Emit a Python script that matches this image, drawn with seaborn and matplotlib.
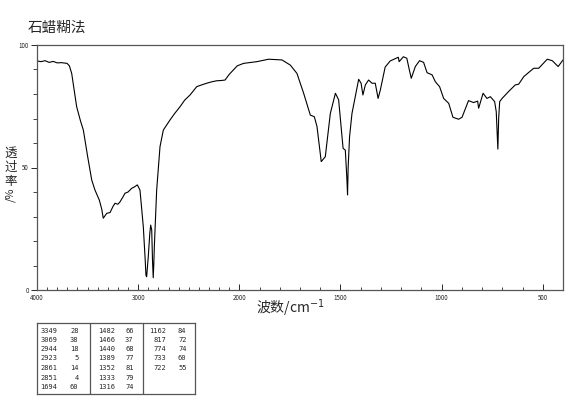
import matplotlib
matplotlib.use('Agg')
import matplotlib.pyplot as plt
import numpy as np
import pandas as pd
import seaborn as sns

### Spectrum values (wavenumber in cm-1, transmittance in %)
wavenumber = [4000, 3960, 3920, 3880, 3840, 3800, 3760, 3703, 3680, 3657, 3630, 3608, 3570, 3542,
              3499, 3459, 3427, 3384, 3360, 3345, 3311, 3278, 3250, 3229, 3200, 3179, 3150, 3130,
              3100, 3064, 3040, 3008, 2982, 2965, 2949, 2930, 2923, 2916, 2900, 2885, 2876, 2866,
              2858, 2851, 2845, 2840, 2817, 2800, 2784, 2751, 2685, 2640, 2586, 2540, 2487, 2421,
              2380, 2322, 2270, 2223, 2180, 2141, 2100, 2059, 2020, 1979, 1913, 1855, 1789, 1748,
              1715, 1682, 1649, 1629, 1616, 1595, 1575, 1550, 1525, 1509, 1487, 1476, 1468, 1465,
              1462, 1455, 1443, 1427, 1410, 1398, 1389, 1377, 1361, 1344, 1328, 1314, 1303, 1279,
              1254, 1214, 1210, 1189, 1172, 1160, 1150, 1130, 1109, 1089, 1072, 1047, 1031, 1010,
              990, 965, 944, 916, 899, 867, 842, 822, 817, 795, 776, 759, 738, 730, 722, 718,
              713, 701, 669, 636, 619, 594, 545, 520, 478, 453, 424, 400]
transmittance = [93.5, 93.2, 93.6, 92.9, 93.3, 92.7, 92.8, 92.5, 91.5, 88.4, 81.0, 74.8, 69.0, 65.3,
                 54.4, 44.9, 40.8, 36.7, 33.0, 29.3, 31.3, 31.6, 34.0, 35.4, 35.0, 36.0, 38.0, 39.5,
                 40.0, 41.5, 42.0, 42.9, 40.8, 33.0, 25.8, 12.0, 6.0, 5.4, 13.6, 23.0, 26.5, 24.5,
                 12.0, 5.0, 11.0, 17.7, 40.8, 50.0, 58.5, 65.3, 69.4, 72.0, 74.8, 77.5, 79.6, 83.0,
                 83.6, 84.4, 85.0, 85.4, 85.5, 85.7, 88.0, 89.8, 91.5, 92.5, 93.2, 94.2, 93.9, 91.8,
                 88.4, 80.3, 71.4, 70.7, 66.7, 52.4, 54.4, 72.1, 80.3, 77.6, 57.8, 57.1, 45.0, 38.8,
                 50.0, 62.6, 72.1, 78.9, 86.0, 84.4, 79.6, 83.7, 85.7, 84.4, 84.4, 78.2, 81.6, 91.0,
                 93.5, 95.0, 93.2, 95.2, 94.6, 90.0, 86.4, 91.2, 93.6, 92.9, 88.7, 87.8, 85.0, 83.0,
                 78.2, 76.2, 70.5, 69.7, 70.5, 77.3, 76.5, 77.1, 74.2, 80.3, 78.2, 78.9, 76.9, 72.8,
                 57.5, 70.0, 76.9, 78.2, 81.0, 83.7, 84.0, 87.1, 90.5, 90.5, 94.2, 93.6, 91.2, 93.9]

### Peak table
peak_wn = [[3349, 3069, 2944, 2923, 2861, 2851, 1694],
           [1482, 1466, 1440, 1389, 1352, 1333, 1316],
           [1162, 817, 774, 733, 722]]
peak_t = [[28, 38, 18, 5, 14, 4, 60],
          [66, 37, 68, 77, 81, 79, 74],
          [84, 72, 74, 60, 55]]

title = '石蜡糊法'
xlabel = '波数/cm$^{-1}$'
ylabel_chars = ['透', '过', '率']
ylabel_unit = '/%'

W, H = 570, 413


def fx(px):
    return px / W


def fy(py):
    return 1 - py / H


def fwd(x):
    # 4000-2000 is drawn at half the scale of 2000-400
    x = np.asarray(x, dtype=float)
    return np.where(x <= 2000, x, 2000 + (x - 2000) / 2)


def inv(u):
    u = np.asarray(u, dtype=float)
    return np.where(u <= 2000, u, 2000 + (u - 2000) * 2)


sns.set_style('ticks')
plt.rcParams['font.family'] = ['Noto Sans CJK SC', 'DejaVu Sans']

fig = plt.figure(figsize=(W / 100, H / 100), dpi=100)
ax = fig.add_axes([fx(37), fy(290), fx(563) - fx(37), fy(45) - fy(290)])

df = pd.DataFrame({'wn': wavenumber, 't': transmittance})
sns.lineplot(data=df, x='wn', y='t', ax=ax, color='black', linewidth=0.8,
             sort=False, estimator=None)

ax.set_xscale('function', functions=(fwd, inv))
ax.set_xlim(4000, 400)
ax.set_ylim(0, 100)

ax.set_xticks([4000, 3000, 2000, 1500, 1000, 500])
ax.set_xticklabels(['4000', '3000', '2000', '1500', '1000', '500'])
ax.set_xticks(np.arange(400, 4001, 100), minor=True)
ax.set_yticks([0, 50, 100])
ax.set_yticklabels(['0', '50', '100'])
ax.set_yticks(np.arange(0, 101, 10), minor=True)
ax.tick_params(axis='x', which='both', direction='in', labelsize=4.5, pad=3)
ax.tick_params(axis='x', which='major', length=4, width=0.7)
ax.tick_params(axis='x', which='minor', length=2, width=0.6)
ax.tick_params(axis='y', which='both', direction='out', labelsize=4.5, pad=2)
ax.tick_params(axis='y', which='major', length=4, width=0.7)
ax.tick_params(axis='y', which='minor', length=3, width=0.6)
for sp in ax.spines.values():
    sp.set_visible(True)
    sp.set_color('#555555')
    sp.set_linewidth(0.9)
ax.set_xlabel('')
ax.set_ylabel('')

# title and axis labels
fig.text(fx(28), fy(28), title, fontsize=10.5, ha='left', va='center')
fig.text(fx(290), fy(308), xlabel, fontsize=10, ha='center', va='center')
for ch, py in zip(ylabel_chars, [153, 167, 181]):
    fig.text(fx(11), fy(py), ch, fontsize=9, ha='center', va='center')
fig.text(fx(11), fy(195), ylabel_unit, fontsize=8, ha='center', va='center', rotation=90)

# peak table
tax = fig.add_axes([fx(37), fy(394), fx(195) - fx(37), fy(323) - fy(394)])
tax.set_xlim(37, 195)
tax.set_ylim(394, 323)
tax.set_xticks([])
tax.set_yticks([])
for sp in tax.spines.values():
    sp.set_color('#555555')
    sp.set_linewidth(0.9)
for xd in [90, 142.5]:
    tax.axvline(xd, color='#555555', linewidth=0.9)
rows_y = [330.7, 340, 349.3, 358.5, 367.8, 377.5, 387.2]
wn_right = [57.5, 115, 166.5]
t_right = [78.5, 133.5, 186.5]
for c in range(3):
    for r, (w, t) in enumerate(zip(peak_wn[c], peak_t[c])):
        tax.text(wn_right[c], rows_y[r], str(w), fontsize=5, ha='right', va='center',
                 family='DejaVu Sans Mono')
        tax.text(t_right[c], rows_y[r], str(t), fontsize=5, ha='right', va='center',
                 family='DejaVu Sans Mono')

plt.savefig('out.png', dpi=100)
plt.close()
